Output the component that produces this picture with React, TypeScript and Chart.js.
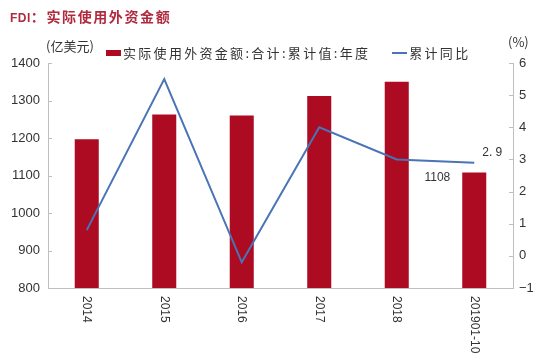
import React, { useEffect, useRef } from "react";
import { Chart, registerables } from "chart.js";
Chart.register(...registerables);

const categories = ["2014", "2015", "2016", "2017", "2018", "201901-10"];
const fdiValues = [1197, 1263, 1260, 1312, 1350, 1108];
const yoyValues = [0.8, 5.5, -0.2, 4.0, 3.0, 2.9];
const barLabelIndex = 5;
const lineLabelIndex = 5;

const BAR_COLOR = "#AC0B22";
const LINE_COLOR = "#4A74B6";
const TEXT_COLOR = "#333333";
const AXIS_COLOR = "#BFBFBF";
const FONT = "'Liberation Sans', Arial, sans-serif";
const CJK = "'Noto Sans CJK SC', sans-serif";

const extras = {
  id: "extras",
  afterDraw(chart: any) {
    const ctx = chart.ctx;
    const x = chart.scales.x;
    const yL = chart.scales.y;
    const yR = chart.scales.y1;
    ctx.save();
    ctx.strokeStyle = AXIS_COLOR;
    ctx.lineWidth = 1;
    yL.ticks.forEach((t: any) => {
      const py = Math.round(yL.getPixelForValue(t.value)) + 0.5;
      ctx.beginPath();
      ctx.moveTo(yL.right, py);
      ctx.lineTo(yL.right + 4, py);
      ctx.stroke();
    });
    yR.ticks.forEach((t: any) => {
      const py = Math.round(yR.getPixelForValue(t.value)) + 0.5;
      ctx.beginPath();
      ctx.moveTo(yR.left, py);
      ctx.lineTo(yR.left - 4, py);
      ctx.stroke();
    });
    ctx.fillStyle = TEXT_COLOR;
    ctx.font = `12px ${FONT}`;
    ctx.textAlign = "left";
    ctx.textBaseline = "middle";
    categories.forEach((c, i) => {
      const px = x.getPixelForValue(i);
      ctx.save();
      ctx.translate(px, x.top + 8);
      ctx.rotate(Math.PI / 2);
      ctx.fillText(c, 0, 0);
      ctx.restore();
    });
    ctx.font = `12px ${FONT}`;
    const bar = chart.getDatasetMeta(0).data[barLabelIndex];
    if (bar) {
      ctx.textAlign = "right";
      ctx.textBaseline = "middle";
      ctx.fillText(String(fdiValues[barLabelIndex]), bar.x - bar.width / 2 - 12, bar.y + 5);
    }
    const pt = chart.getDatasetMeta(1).data[lineLabelIndex];
    if (pt) {
      ctx.textAlign = "left";
      ctx.textBaseline = "bottom";
      ctx.fillText(yoyValues[lineLabelIndex].toFixed(1).replace(".", ". "), pt.x + 8, pt.y - 4);
    }
    ctx.restore();
  },
};

export default function App() {
  const ref = useRef<HTMLCanvasElement>(null);
  useEffect(() => {
    if (!ref.current) return;
    const chart = new Chart(ref.current, {
      type: "bar",
      data: {
        labels: categories,
        datasets: [
          {
            type: "bar",
            label: "实际使用外资金额:合计:累计值:年度",
            data: fdiValues,
            backgroundColor: BAR_COLOR,
            yAxisID: "y",
            barPercentage: 0.31,
            categoryPercentage: 1,
            order: 2,
          },
          {
            type: "line",
            label: "累计同比",
            data: yoyValues,
            borderColor: LINE_COLOR,
            backgroundColor: LINE_COLOR,
            borderWidth: 2,
            pointRadius: 0,
            yAxisID: "y1",
            order: 1,
          } as any,
        ],
      },
      options: {
        animation: false,
        responsive: false,
        maintainAspectRatio: false,
        layout: { padding: { top: 63, left: 0, right: 0, bottom: 0 } },
        plugins: { legend: { display: false }, tooltip: { enabled: false } },
        scales: {
          x: {
            grid: { display: false },
            border: { display: true, color: AXIS_COLOR },
            ticks: { display: false },
            afterFit: (s: any) => { s.height = 65; },
          },
          y: {
            position: "left",
            min: 800,
            max: 1400,
            ticks: {
              stepSize: 100,
              color: TEXT_COLOR,
              font: { size: 13, family: FONT },
              padding: 8,
              callback: (v: any) => String(v),
            },
            grid: { display: false, drawTicks: false },
            border: { display: true, color: AXIS_COLOR },
            afterFit: (s: any) => { s.width = 48; },
          },
          y1: {
            position: "right",
            min: -1,
            max: 6,
            ticks: {
              stepSize: 1,
              color: TEXT_COLOR,
              font: { size: 13, family: FONT },
              padding: 6,
              callback: (v: any) => String(v).replace("-", "−"),
            },
            grid: { display: false, drawTicks: false },
            border: { display: true, color: AXIS_COLOR },
            afterFit: (s: any) => { s.width = 37; },
          },
        },
      },
      plugins: [extras],
    });
    return () => chart.destroy();
  }, []);

  return (
    <div style={{ position: "fixed", left: 0, top: 0, width: 550, height: 353, background: "#fff" }}>
      <canvas ref={ref} width={550} height={353} style={{ position: "absolute", left: 0, top: 0 }} />
      <div style={{ position: "absolute", left: 10, top: 6, color: "#B02A3E", fontFamily: CJK, fontSize: 14, fontWeight: 700, whiteSpace: "nowrap" }}>
        <span style={{ fontFamily: FONT, fontSize: 12, letterSpacing: 0.5 }}>FDI</span>
        <span style={{ letterSpacing: 1.6 }}>：实际使用外资金额</span>
      </div>
      <div style={{ position: "absolute", left: 46, top: 36, color: TEXT_COLOR, fontFamily: CJK, fontSize: 13, whiteSpace: "nowrap" }}>
        (亿美元)
      </div>
      <div style={{ position: "absolute", left: 508, top: 32, color: TEXT_COLOR, fontFamily: CJK, fontSize: 13, whiteSpace: "nowrap" }}>
        (%)
      </div>
      <div style={{ position: "absolute", left: 106, top: 43, display: "flex", alignItems: "center", color: TEXT_COLOR, fontFamily: CJK, fontSize: 13, letterSpacing: 2.3, whiteSpace: "nowrap" }}>
        <span style={{ display: "inline-block", width: 15, height: 6, background: BAR_COLOR, marginRight: 2 }} />
        <span>实际使用外资金额:合计:累计值:年度</span>
        <span style={{ display: "inline-block", width: 15, height: 2, background: LINE_COLOR, marginLeft: 22, marginRight: 2 }} />
        <span>累计同比</span>
      </div>
    </div>
  );
}
